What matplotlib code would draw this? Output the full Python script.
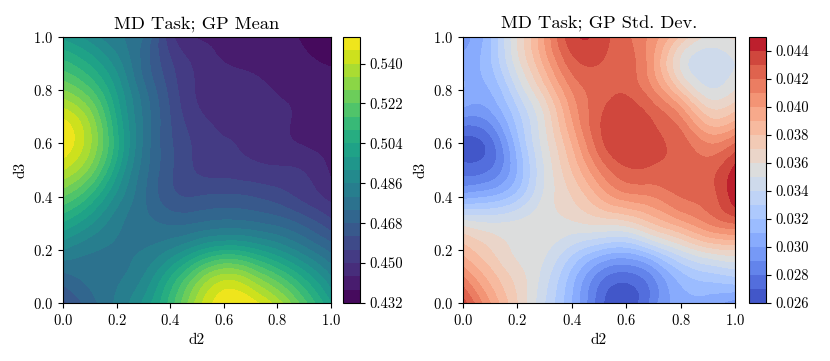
import numpy as np
import matplotlib
matplotlib.use("Agg")
import matplotlib.pyplot as plt
import matplotlib.tri as mtri

plt.rcParams['font.family'] = 'serif'
plt.rcParams['font.serif'] = ['cmr10']
plt.rcParams['mathtext.fontset'] = 'cm'
plt.rcParams['axes.formatter.use_mathtext'] = True

# grid of read-off values, x (d2) and y (d3) from 0 to 1 in 0.1 steps
d2 = [0.0, 0.1, 0.2, 0.3, 0.4, 0.5, 0.6, 0.7, 0.8, 0.9, 1.0]
d3 = [0.0, 0.1, 0.2, 0.3, 0.4, 0.5, 0.6, 0.7, 0.8, 0.9, 1.0]

# GP mean, rows d3 = 0.0 .. 1.0
gp_mean = [
    [0.460, 0.471, 0.481, 0.493, 0.512, 0.536, 0.550, 0.549, 0.537, 0.518, 0.498],
    [0.472, 0.476, 0.479, 0.486, 0.503, 0.523, 0.536, 0.530, 0.517, 0.502, 0.486],
    [0.486, 0.481, 0.479, 0.480, 0.486, 0.496, 0.503, 0.500, 0.492, 0.482, 0.472],
    [0.503, 0.493, 0.482, 0.476, 0.473, 0.474, 0.476, 0.475, 0.472, 0.466, 0.458],
    [0.522, 0.509, 0.490, 0.475, 0.464, 0.462, 0.463, 0.462, 0.459, 0.454, 0.448],
    [0.540, 0.526, 0.500, 0.477, 0.463, 0.4555, 0.4535, 0.4520, 0.4510, 0.4495, 0.4430],
    [0.551, 0.535, 0.506, 0.479, 0.463, 0.4545, 0.4505, 0.4490, 0.4460, 0.4435, 0.4416],
    [0.545, 0.531, 0.503, 0.479, 0.462, 0.4515, 0.4485, 0.4476, 0.4452, 0.4429, 0.4408],
    [0.528, 0.517, 0.497, 0.476, 0.460, 0.4495, 0.4475, 0.4458, 0.4437, 0.4424, 0.4402],
    [0.512, 0.503, 0.489, 0.472, 0.457, 0.4485, 0.4442, 0.4430, 0.4422, 0.4395, 0.4375],
    [0.496, 0.489, 0.481, 0.474, 0.4525, 0.4436, 0.4421, 0.4408, 0.4395, 0.4372, 0.4330],
]

# GP standard deviation, rows d3 = 0.0 .. 1.0
gp_std = [
    [0.0435, 0.0400, 0.0370, 0.0340, 0.0310, 0.0275, 0.0263, 0.0285, 0.0305, 0.0305, 0.0295],
    [0.0410, 0.0385, 0.0365, 0.0345, 0.0315, 0.0285, 0.0275, 0.0290, 0.0315, 0.0325, 0.0330],
    [0.0385, 0.0370, 0.0358, 0.0352, 0.0335, 0.0320, 0.0315, 0.0330, 0.0350, 0.0365, 0.0370],
    [0.0355, 0.0350, 0.0352, 0.0355, 0.0358, 0.0362, 0.0365, 0.0380, 0.0395, 0.0410, 0.0420],
    [0.0305, 0.0310, 0.0325, 0.0352, 0.0370, 0.0390, 0.0405, 0.0410, 0.0420, 0.0425, 0.0446],
    [0.0275, 0.0280, 0.0310, 0.0350, 0.0380, 0.0410, 0.0428, 0.0428, 0.0425, 0.0425, 0.0443],
    [0.0265, 0.0275, 0.0315, 0.0355, 0.0390, 0.0425, 0.0438, 0.0432, 0.0425, 0.0410, 0.0420],
    [0.0290, 0.0295, 0.0325, 0.0360, 0.0400, 0.0428, 0.0438, 0.0428, 0.0410, 0.0380, 0.0385],
    [0.0310, 0.0310, 0.0340, 0.0375, 0.0410, 0.0425, 0.0428, 0.0410, 0.0378, 0.0352, 0.0360],
    [0.0305, 0.0318, 0.0355, 0.0392, 0.0425, 0.0430, 0.0425, 0.0400, 0.0358, 0.0342, 0.0350],
    [0.0295, 0.0318, 0.0360, 0.0400, 0.0436, 0.0436, 0.0422, 0.0405, 0.0378, 0.0358, 0.0362],
]

mean_levels = np.arange(0.432, 0.5521, 0.006)
std_levels = np.arange(0.026, 0.0451, 0.001)
mean_ticks = [0.432, 0.450, 0.468, 0.486, 0.504, 0.522, 0.540]
std_ticks = [0.026, 0.028, 0.030, 0.032, 0.034, 0.036, 0.038, 0.040, 0.042, 0.044]

X, Y = np.meshgrid(d2, d3)
tri = mtri.Triangulation(X.ravel(), Y.ravel())
refiner = mtri.UniformTriRefiner(tri)

fig = plt.figure(figsize=(8.3, 3.61), dpi=100)
ax1 = fig.add_axes([0.0759, 0.1607, 0.3229, 0.7368])
cax1 = fig.add_axes([0.4133, 0.1607, 0.0205, 0.7368])
ax2 = fig.add_axes([0.5578, 0.1607, 0.3277, 0.7368])
cax2 = fig.add_axes([0.9024, 0.1607, 0.0205, 0.7368])


def draw_panel(ax, cax, field, levels, cmap, ticks, title):
    tri_f, z_f = refiner.refine_field(np.array(field).ravel(), subdiv=4)
    cs = ax.tricontourf(tri_f, z_f, levels=levels, cmap=cmap, extend='neither')
    ax.set_xlim(0, 1)
    ax.set_ylim(0, 1)
    ax.set_xlabel('d2', fontsize=11)
    ax.set_ylabel('d3', fontsize=11)
    ax.set_title(title, fontsize=13.3)
    ax.tick_params(labelsize=10.5)
    cb = fig.colorbar(cs, cax=cax, ticks=ticks)
    cb.ax.set_yticklabels([f"{t:.3f}" for t in ticks])
    cb.ax.tick_params(labelsize=10.5)
    return cs


draw_panel(ax1, cax1, gp_mean, mean_levels, 'viridis', mean_ticks, 'MD Task; GP Mean')
draw_panel(ax2, cax2, gp_std, std_levels, 'coolwarm', std_ticks, 'MD Task; GP Std. Dev.')

fig.savefig('out.png', dpi=100)
